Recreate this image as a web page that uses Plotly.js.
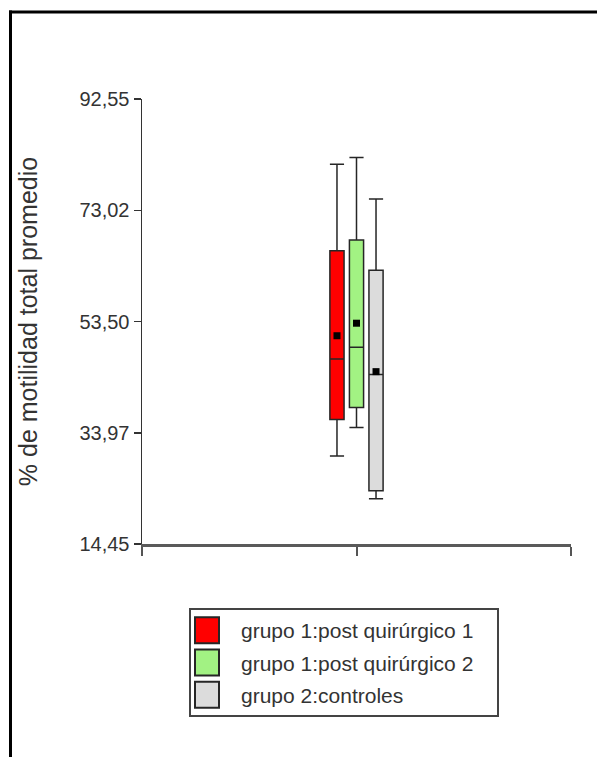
<!DOCTYPE html>
<html>
<head>
<meta charset="utf-8">
<script src="https://cdn.plot.ly/plotly-3.0.1.min.js"></script>
<style>
  html, body { margin: 0; padding: 0; background: #fff; }
  #chart { width: 597px; height: 757px; }
</style>
</head>
<body>
<div id="chart"></div>
<script>
// ---- data ----
const groupNames = ["grupo 1:post quirúrgico 1", "grupo 1:post quirúrgico 2", "grupo 2:controles"];
const lowerWhisker = [29.9, 34.9, 22.4];
const q1Values     = [36.3, 38.4, 23.8];
const medianValues = [46.9, 49.0, 44.2];
const q3Values     = [65.9, 67.8, 62.5];
const upperWhisker = [81.1, 82.3, 75.0];
const meanValues   = [51.0, 53.2, 44.7];
const yTickValues  = [14.45, 33.97, 53.50, 73.02, 92.55];
const yTickLabels  = ["14,45", "33,97", "53,50", "73,02", "92,55"];

// ---- style ----
const fillColors = ["#ff0000", "#a2f283", "#dcdcdc"];
const groupPos = 1;      // single group on the x axis
const slot = 0.091;      // spacing between boxes (x units)
const boxWidth = 0.066;  // box width (x units)
const font = "Liberation Sans, Arial, sans-serif";

const traces = [];
groupNames.forEach((name, i) => {
  const xc = groupPos + (i - (groupNames.length - 1) / 2) * slot;
  traces.push({
    type: "box",
    name: name,
    x: [xc],
    q1: [q1Values[i]],
    median: [medianValues[i]],
    q3: [q3Values[i]],
    lowerfence: [lowerWhisker[i]],
    upperfence: [upperWhisker[i]],
    width: boxWidth,
    whiskerwidth: 1,
    fillcolor: fillColors[i],
    line: { color: "#262626", width: 1.5 },
    boxpoints: false,
    legendgroup: "g" + i,
    hoverinfo: "y"
  });
});
groupNames.forEach((name, i) => {
  const xc = groupPos + (i - (groupNames.length - 1) / 2) * slot;
  traces.push({
    type: "scatter",
    mode: "markers",
    x: [xc],
    y: [meanValues[i]],
    marker: { symbol: "square", size: 7, color: "#000" },
    showlegend: false,
    legendgroup: "g" + i,
    hoverinfo: "y"
  });
});

const L = 142, R = 26, T = 99, B = 213;
const W = 597, H = 757;
const pw = W - L - R, ph = H - T - B;
const px = v => (v - L) / pw;          // pixel -> paper x
const py = v => (H - B - v) / ph;      // pixel -> paper y

const layout = {
  width: W, height: H,
  margin: { l: L, r: R, t: T, b: B },
  paper_bgcolor: "#fff",
  plot_bgcolor: "#fff",
  font: { family: font, color: "#333" },
  showlegend: true,
  xaxis: {
    range: [0, 2],
    tickmode: "array",
    tickvals: [0, 1, 2],
    showticklabels: false,
    ticks: "outside",
    ticklen: 9,
    tickwidth: 2,
    tickcolor: "#555",
    showgrid: false,
    zeroline: false,
    showline: true,
    linecolor: "#5a5a5a",
    linewidth: 2.5,
    fixedrange: true
  },
  yaxis: {
    range: [14.45, 92.55],
    tickmode: "array",
    tickvals: yTickValues,
    ticktext: yTickLabels,
    ticks: "outside",
    ticklen: 7,
    tickwidth: 1.5,
    tickcolor: "#333",
    tickfont: { size: 20, color: "#333", family: font },
    showgrid: false,
    zeroline: false,
    showline: true,
    linecolor: "#333",
    linewidth: 1.5,
    title: { text: "% de motilidad total promedio", font: { size: 25, color: "#333", family: font }, standoff: 34 },
    automargin: false,
    fixedrange: true
  },
  legend: {
    x: px(189), y: py(608),
    xanchor: "left", yanchor: "top",
    bordercolor: "#444", borderwidth: 2,
    bgcolor: "#fff",
    font: { size: 21, color: "#333", family: font },
    itemwidth: 40,
    tracegroupgap: 2,
    traceorder: "grouped"
  },
  shapes: [
    { type: "line", xref: "paper", yref: "paper", x0: px(9), x1: px(620), y0: py(12), y1: py(12), line: { color: "#000", width: 3 } },
    { type: "line", xref: "paper", yref: "paper", x0: px(10.5), x1: px(10.5), y0: py(10.5), y1: py(780), line: { color: "#000", width: 3 } }
  ]
};

Plotly.newPlot("chart", traces, layout, { displayModeBar: false, staticPlot: true }).then(() => {
  // enlarge legend swatches and widen the legend frame to match the reference
  document.querySelectorAll("#chart .legend path.legendbox").forEach(p => {
    p.setAttribute("d", "M3,13H-21V-13H3Z");
    p.style.strokeWidth = "2px";
  });
  const bg = document.querySelector("#chart .legend rect.bg");
  if (bg) {
    const w = parseFloat(bg.getAttribute("width"));
    if (!isNaN(w)) bg.setAttribute("width", w + 18);
  }
});
</script>
</body>
</html>
